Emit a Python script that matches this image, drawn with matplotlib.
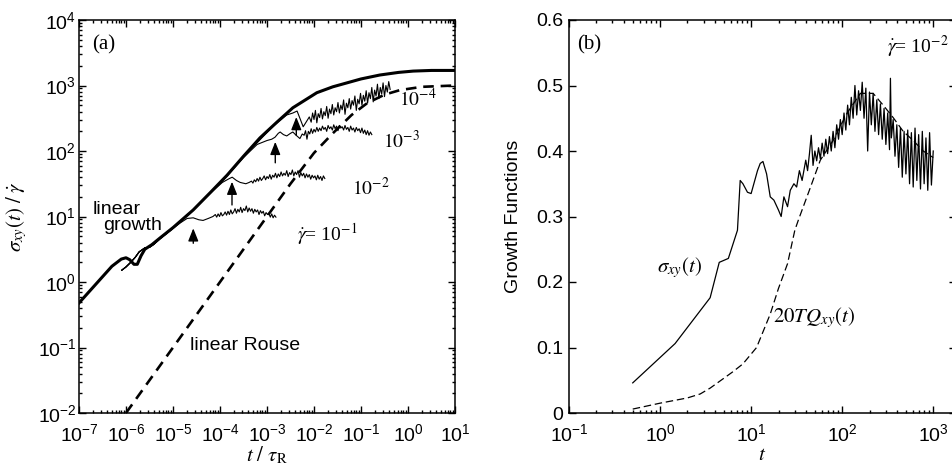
import numpy as np
import matplotlib
matplotlib.use('Agg')
import matplotlib.pyplot as plt
from matplotlib.ticker import LogLocator, NullFormatter

# ---- panel (a): values read as log10(t/tau_R), log10(sigma/gammadot) ----
lt_linear = [-7.0, -6.6, -6.3, -6.1, -6.0, -5.92, -5.83, -5.76, -5.68, -5.6, -5.45, -5.28, -5.0,
             -4.57, -4.2, -3.85, -3.5, -3.15, -2.79, -2.45, -1.94, -1.6, -1.3, -1.0, -0.6,
             -0.2, 0.11, 0.5, 1.0]
ly_linear = [-0.32, 0.0, 0.24, 0.35, 0.37, 0.34, 0.27, 0.27, 0.40, 0.50, 0.57, 0.67, 0.83,
             1.10, 1.37, 1.63, 1.92, 2.20, 2.44, 2.66, 2.89, 2.98, 3.04, 3.10, 3.16,
             3.20, 3.22, 3.23, 3.23]

lt_rouse = [-6.0, -5.0, -4.0, -3.0, -2.5, -2.0, -1.6, -1.2, -0.87, -0.5, -0.17, 0.3, 1.0]
ly_rouse = [-2.0, -1.0, 0.0, 1.0, 1.5, 1.97, 2.27, 2.55, 2.73, 2.86, 2.93, 2.98, 3.0]

# common start of the four finite-rate curves
lt_start = [-6.09, -6.0, -5.9, -5.8, -5.72, -5.6, -5.5, -5.4, -5.28, -5.0]
ly_start = [0.18, 0.23, 0.30, 0.38, 0.46, 0.52, 0.53, 0.58, 0.66, 0.82]

# gammadot = 1e-1
lt_g1 = [-4.85, -4.7, -4.57, -4.45, -4.36, -4.25, -4.15,
         -4.10, -4.07, -4.04, -4.01, -3.98, -3.95, -3.92, -3.89, -3.86, -3.83,
         -3.80, -3.77, -3.74, -3.71, -3.68, -3.65, -3.62, -3.59, -3.56, -3.53,
         -3.50, -3.47, -3.44, -3.41, -3.38, -3.35, -3.32, -3.29, -3.26, -3.23,
         -3.20, -3.17, -3.14, -3.11, -3.08, -3.05, -3.02, -2.99, -2.96, -2.93,
         -2.90, -2.87, -2.84, -2.81]
ly_g1 = [0.90, 0.97, 0.98, 0.95, 0.94, 0.97, 1.00,
         1.03, 0.99, 1.04, 1.00, 1.06, 1.01, 1.03, 1.07, 1.02, 1.08,
         1.03, 1.10, 1.04, 1.07, 1.12, 1.05, 1.11, 1.07, 1.14, 1.06,
         1.12, 1.09, 1.16, 1.07, 1.13, 1.08, 1.12, 1.05, 1.11, 1.07,
         1.10, 1.03, 1.09, 1.05, 1.08, 1.01, 1.06, 1.03, 1.05, 0.99,
         1.04, 0.98, 1.02, 0.99]

# gammadot = 1e-2
lt_g2 = [-4.57, -4.2, -3.95, -3.8, -3.74, -3.65, -3.57, -3.45, -3.38,
         -3.33, -3.30, -3.27, -3.24, -3.21, -3.18, -3.15, -3.12, -3.09, -3.06,
         -3.03, -3.00, -2.97, -2.94, -2.91, -2.88, -2.85, -2.82, -2.79, -2.76,
         -2.73, -2.70, -2.67, -2.64, -2.61, -2.58, -2.55, -2.52, -2.49, -2.46,
         -2.43, -2.40, -2.37, -2.34, -2.31, -2.28, -2.25, -2.22, -2.19, -2.16,
         -2.13, -2.10, -2.07, -2.04, -2.01, -1.98, -1.95, -1.92, -1.89, -1.86,
         -1.83, -1.80, -1.77]
ly_g2 = [1.10, 1.36, 1.52, 1.58, 1.60, 1.55, 1.52, 1.50, 1.52,
         1.54, 1.51, 1.56, 1.53, 1.58, 1.54, 1.60, 1.55, 1.58, 1.62,
         1.56, 1.61, 1.58, 1.64, 1.57, 1.63, 1.60, 1.66, 1.59, 1.65,
         1.61, 1.68, 1.62, 1.66, 1.63, 1.70, 1.61, 1.67, 1.64, 1.71,
         1.62, 1.68, 1.64, 1.70, 1.60, 1.67, 1.62, 1.66, 1.59, 1.65,
         1.60, 1.64, 1.57, 1.63, 1.59, 1.62, 1.56, 1.63, 1.57, 1.61,
         1.55, 1.62, 1.58]

# gammadot = 1e-3
lt_g3 = [-4.57, -4.2, -3.85, -3.5, -3.21, -3.0, -2.90, -2.83, -2.76, -2.72, -2.65, -2.58,
         -2.50, -2.45, -2.38, -2.30, -2.25,
         -2.21, -2.18, -2.15, -2.12, -2.09, -2.06, -2.03, -2.00, -1.97, -1.94,
         -1.91, -1.88, -1.85, -1.82, -1.79, -1.76, -1.73, -1.70, -1.67, -1.64,
         -1.61, -1.58, -1.55, -1.52, -1.49, -1.46, -1.43, -1.40, -1.37, -1.34,
         -1.31, -1.28, -1.25, -1.22, -1.19, -1.16, -1.13, -1.10, -1.07, -1.04,
         -1.01, -0.98, -0.95, -0.92, -0.89, -0.86, -0.83, -0.80, -0.77]
ly_g3 = [1.10, 1.36, 1.62, 1.90, 2.10, 2.16, 2.18, 2.21, 2.27, 2.29, 2.25, 2.23,
         2.27, 2.29, 2.24, 2.19, 2.26,
         2.24, 2.31, 2.18, 2.30, 2.26, 2.34, 2.27, 2.33, 2.29, 2.36,
         2.30, 2.35, 2.31, 2.38, 2.33, 2.36, 2.30, 2.39, 2.34, 2.37,
         2.32, 2.40, 2.34, 2.38, 2.31, 2.39, 2.35, 2.37, 2.32, 2.39,
         2.33, 2.36, 2.30, 2.38, 2.32, 2.35, 2.29, 2.36, 2.31, 2.34,
         2.28, 2.35, 2.27, 2.32, 2.25, 2.31, 2.24, 2.29, 2.25]

# gammadot = 1e-4
lt_g4 = [-4.57, -4.2, -3.85, -3.5, -3.15, -2.87, -2.7, -2.58, -2.45, -2.36, -2.30, -2.23,
         -2.16, -2.10,
         -2.06, -2.03, -2.00, -1.97, -1.94, -1.91, -1.88, -1.85, -1.82, -1.79,
         -1.76, -1.73, -1.70, -1.67, -1.64, -1.61, -1.58, -1.55, -1.52, -1.49,
         -1.46, -1.43, -1.40, -1.37, -1.34, -1.31, -1.28, -1.25, -1.22, -1.19,
         -1.16, -1.13, -1.10, -1.07, -1.04, -1.01, -0.98, -0.95, -0.92, -0.89,
         -0.86, -0.83, -0.80, -0.77, -0.74, -0.71, -0.68, -0.65, -0.62, -0.59,
         -0.56, -0.53, -0.50, -0.47, -0.44, -0.41, -0.38]
ly_g4 = [1.10, 1.37, 1.62, 1.91, 2.17, 2.38, 2.48, 2.55, 2.58, 2.61, 2.50, 2.37,
         2.45, 2.52,
         2.44, 2.58, 2.48, 2.62, 2.43, 2.57, 2.51, 2.65, 2.49, 2.60,
         2.54, 2.68, 2.50, 2.64, 2.57, 2.71, 2.55, 2.66, 2.60, 2.74,
         2.58, 2.70, 2.63, 2.78, 2.56, 2.73, 2.66, 2.80, 2.64, 2.77,
         2.70, 2.84, 2.62, 2.79, 2.72, 2.88, 2.70, 2.85, 2.76, 2.92,
         2.73, 2.89, 2.80, 2.97, 2.75, 2.93, 2.84, 3.02, 2.80, 2.97,
         2.87, 3.04, 2.83, 3.00, 2.90, 3.06, 2.94]

# ---- panel (b): values read as log10(t), growth function ----
lt_sigma = [-0.30, 0.165, 0.55, 0.65, 0.75, 0.85, 0.88, 0.91, 0.96, 1.00, 1.07, 1.10, 1.13,
            1.17, 1.21, 1.25, 1.30, 1.33, 1.36, 1.40, 1.43, 1.47, 1.50, 1.53, 1.56,
            1.60, 1.62, 1.64, 1.66, 1.68, 1.70, 1.72, 1.74, 1.76, 1.78,
            1.80, 1.82, 1.84, 1.86, 1.88, 1.90, 1.92, 1.94, 1.96, 1.98,
            2.00, 2.02, 2.04, 2.06, 2.08, 2.10, 2.12, 2.14, 2.16, 2.18,
            2.20, 2.22, 2.24, 2.26, 2.28, 2.30, 2.32, 2.34, 2.36, 2.38,
            2.40, 2.42, 2.44, 2.46, 2.48, 2.50, 2.52, 2.53, 2.54, 2.56,
            2.58, 2.60, 2.62, 2.64, 2.66, 2.68, 2.70, 2.72, 2.74, 2.76,
            2.78, 2.80, 2.82, 2.84, 2.86, 2.88, 2.90, 2.92, 2.94, 2.96,
            2.98, 3.00]
y_sigma = [0.046, 0.106, 0.176, 0.230, 0.236, 0.279, 0.355, 0.350, 0.337, 0.335, 0.370, 0.381,
           0.384, 0.365, 0.330, 0.325, 0.310, 0.300, 0.330, 0.315, 0.340, 0.350, 0.345, 0.370,
           0.355,
           0.386, 0.370, 0.395, 0.424, 0.378, 0.400, 0.385, 0.405, 0.388, 0.412,
           0.392, 0.418, 0.396, 0.422, 0.400, 0.430, 0.405, 0.440, 0.418, 0.448,
           0.425, 0.458, 0.432, 0.470, 0.440, 0.482, 0.450, 0.500, 0.455, 0.492,
           0.462, 0.505, 0.450, 0.496, 0.400, 0.490, 0.440, 0.488, 0.430, 0.478,
           0.425, 0.472, 0.418, 0.465, 0.410, 0.458, 0.402, 0.511, 0.420, 0.448,
           0.392, 0.440, 0.375, 0.435, 0.360, 0.430, 0.365, 0.432, 0.350, 0.428,
           0.345, 0.435, 0.355, 0.425, 0.342, 0.430, 0.350, 0.420, 0.340, 0.428,
           0.348, 0.400]

lt_tq = [-0.30, 0.0, 0.30, 0.44, 0.55, 0.69, 0.80, 0.91, 1.06, 1.21, 1.30, 1.40, 1.48, 1.52,
         1.65, 1.76, 1.90, 2.05, 2.20, 2.34, 2.45, 2.56, 2.67, 2.78, 2.89, 3.00]
y_tq = [0.006, 0.015, 0.023, 0.029, 0.038, 0.052, 0.063, 0.075, 0.100, 0.151, 0.190, 0.228,
        0.279, 0.295, 0.344, 0.386, 0.416, 0.457, 0.488, 0.488, 0.470, 0.451, 0.430, 0.416,
        0.400, 0.390]

SERIF = ['Liberation Serif', 'DejaVu Serif']


def pw(vals):
    return 10 ** np.asarray(vals, dtype=float)


def style_axis(ax):
    for s in ax.spines.values():
        s.set_linewidth(1.1)
    ax.tick_params(which='both', direction='in', top=True, right=True, width=1.0)
    ax.tick_params(which='major', length=5)
    ax.tick_params(which='minor', length=2.5)


def serif_text(ax, x, y, s, size=14, **kw):
    ax.text(x, y, s, transform=ax.transAxes, fontsize=size, family=SERIF,
            math_fontfamily='stix', **kw)


def panel_a(ax):
    ax.plot(pw(lt_linear), pw(ly_linear), color='black', lw=2.2)
    ax.plot(pw(lt_rouse), pw(ly_rouse), color='black', lw=1.9, dashes=(4, 2.6))
    for lt, ly in [(lt_g1, ly_g1), (lt_g2, ly_g2), (lt_g3, ly_g3), (lt_g4, ly_g4)]:
        ax.plot(pw(lt_start + lt), pw(ly_start + ly), color='black', lw=0.8)

    ax.set_xscale('log')
    ax.set_yscale('log')
    ax.set_xlim(1e-7, 1e1)
    ax.set_ylim(1e-2, 1e4)
    ax.xaxis.set_major_locator(LogLocator(base=10, numticks=20))
    ax.yaxis.set_major_locator(LogLocator(base=10, numticks=20))
    ax.xaxis.set_minor_locator(LogLocator(base=10, subs=np.arange(2, 10), numticks=100))
    ax.yaxis.set_minor_locator(LogLocator(base=10, subs=np.arange(2, 10), numticks=100))
    ax.xaxis.set_minor_formatter(NullFormatter())
    ax.yaxis.set_minor_formatter(NullFormatter())
    style_axis(ax)
    ax.tick_params(axis='x', which='major', pad=7)
    ax.tick_params(axis='y', which='major', pad=2)

    # arrows marking departure from linear growth
    for x, tail, tip in [(2.7e-5, 3.9, 6.6), (1.8e-4, 15, 34),
                         (1.5e-3, 66, 138), (4.2e-3, 174, 330)]:
        ax.annotate('', xy=(x, tip), xytext=(x, tail),
                    arrowprops=dict(arrowstyle='-|>,head_length=0.55,head_width=0.22',
                                    color='black', lw=1.0, shrinkA=0, shrinkB=0))

    serif_text(ax, 0.035, 0.936, '(a)', size=15, va='center')
    ax.text(0.037, 0.517, 'linear', transform=ax.transAxes, fontsize=14, va='center')
    ax.text(0.064, 0.478, 'growth', transform=ax.transAxes, fontsize=14, va='center')
    ax.text(0.295, 0.173, 'linear Rouse', transform=ax.transAxes, fontsize=14, va='center')
    serif_text(ax, 0.852, 0.781, r'$\mathrm{10}^{-4}$', va='baseline')
    serif_text(ax, 0.809, 0.674, r'$\mathrm{10}^{-3}$', va='baseline')
    serif_text(ax, 0.726, 0.555, r'$\mathrm{10}^{-2}$', va='baseline')
    serif_text(ax, 0.580, 0.440, r'$\dot{\gamma}$= 10$^{-1}$', va='baseline')

    ax.set_xlabel(r'$t\ /\ \tau_{\mathrm{R}}$', fontsize=15, math_fontfamily='stix',
                  labelpad=0)
    ax.set_ylabel(r'$\sigma_{xy}(t)\ /\ \dot{\gamma}$', fontsize=15, math_fontfamily='stix',
                  labelpad=6)


def panel_b(ax):
    ax.plot(pw(lt_sigma), y_sigma, color='black', lw=0.9)
    ax.plot(pw(lt_tq), y_tq, color='black', lw=0.9, dashes=(6, 3))

    ax.set_xscale('log')
    ax.set_xlim(1e-1, 10 ** 3.25)
    ax.set_ylim(0, 0.6)
    ax.xaxis.set_major_locator(LogLocator(base=10, numticks=20))
    ax.xaxis.set_minor_locator(LogLocator(base=10, subs=np.arange(2, 10), numticks=100))
    ax.xaxis.set_minor_formatter(NullFormatter())
    ax.set_yticks([0, 0.1, 0.2, 0.3, 0.4, 0.5, 0.6])
    ax.set_yticklabels(['0', '0.1', '0.2', '0.3', '0.4', '0.5', '0.6'])
    style_axis(ax)
    ax.tick_params(axis='x', which='major', pad=7)
    ax.tick_params(axis='y', which='major', pad=4)

    serif_text(ax, 0.021, 0.936, '(b)', size=15, va='center')
    serif_text(ax, 0.822, 0.916, r'$\dot{\gamma}$= 10$^{-2}$', va='baseline')
    serif_text(ax, 0.227, 0.359, r'$\sigma_{xy}(t)$', size=15, va='baseline')
    serif_text(ax, 0.527, 0.232, r'$\mathit{20}TQ_{xy}(t)$', size=15, va='baseline')

    ax.set_xlabel(r'$t$', fontsize=15, math_fontfamily='stix', labelpad=0)
    ax.set_ylabel('Growth Functions', fontsize=14, labelpad=10)


def main():
    plt.rcParams['font.family'] = ['Liberation Sans', 'DejaVu Sans']
    plt.rcParams['mathtext.fontset'] = 'custom'
    plt.rcParams['mathtext.rm'] = 'Liberation Sans'
    plt.rcParams['mathtext.it'] = 'Liberation Sans:italic'
    plt.rcParams['mathtext.bf'] = 'Liberation Sans:bold'
    plt.rcParams['font.size'] = 14

    fig = plt.figure(figsize=(9.53, 4.66), dpi=100)
    ax_a = fig.add_axes([79 / 953, 53 / 466, 376 / 953, 393 / 466])
    ax_b = fig.add_axes([569 / 953, 53 / 466, 387 / 953, 393 / 466])
    panel_a(ax_a)
    panel_b(ax_b)
    fig.savefig('out.png', dpi=100)


if __name__ == '__main__':
    main()
